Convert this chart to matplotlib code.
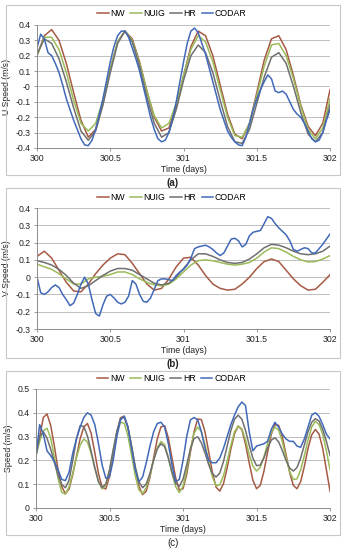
import numpy as np
import matplotlib
matplotlib.use("Agg")
import matplotlib.pyplot as plt
from matplotlib.patches import Rectangle
from matplotlib.ticker import FuncFormatter

plt.rcParams['font.family'] = ['Liberation Sans', 'DejaVu Sans']
plt.rcParams['axes.unicode_minus'] = False

# time grids (days): models every 0.05 d, CODAR / speed every 0.025 d
t_coarse = np.round(300 + 0.05 * np.arange(41), 3)
t_fine = np.round(300 + 0.025 * np.arange(81), 3)

series_names = ["NW", "NUIG", "HR", "CODAR"]
colors = ["#A65A44", "#9BBB59", "#6F6F6F", "#4169B8"]

# ---- (a) U speed ----
u_nw = [0.20, 0.33, 0.37, 0.30, 0.15, -0.04, -0.22, -0.33, -0.28, -0.11,
        0.11, 0.29, 0.36, 0.31, 0.16, -0.03, -0.20, -0.29, -0.27, -0.13,
        0.07, 0.26, 0.36, 0.33, 0.20, 0.01, -0.18, -0.31, -0.34, -0.24,
        -0.04, 0.17, 0.31, 0.33, 0.24, 0.07, -0.12, -0.26, -0.32, -0.24,
        -0.02]
u_nuig = [0.20, 0.32, 0.32, 0.24, 0.09, -0.09, -0.24, -0.29, -0.24, -0.09,
          0.11, 0.29, 0.36, 0.30, 0.15, -0.03, -0.19, -0.27, -0.24, -0.11,
          0.07, 0.24, 0.33, 0.29, 0.16, -0.02, -0.20, -0.32, -0.33, -0.24,
          -0.06, 0.13, 0.27, 0.28, 0.20, 0.05, -0.13, -0.28, -0.34, -0.27,
          -0.08]
u_hr = [0.21, 0.31, 0.28, 0.18, 0.03, -0.14, -0.29, -0.35, -0.29, -0.12,
        0.09, 0.28, 0.36, 0.29, 0.13, -0.07, -0.24, -0.33, -0.30, -0.15,
        0.04, 0.20, 0.27, 0.22, 0.09, -0.09, -0.26, -0.36, -0.37, -0.28,
        -0.11, 0.06, 0.19, 0.22, 0.15, 0.00, -0.17, -0.31, -0.36, -0.30,
        -0.12]
u_codar = [0.25, 0.34, 0.31, 0.22, 0.20, 0.15, 0.09, 0.01, -0.08, -0.15,
           -0.22, -0.28, -0.34, -0.38, -0.385, -0.35, -0.28, -0.18, -0.08, 0.04,
           0.16, 0.26, 0.33, 0.36, 0.36, 0.32, 0.25, 0.18, 0.10, 0.00,
           -0.10, -0.20, -0.28, -0.34, -0.36, -0.35, -0.30, -0.21, -0.10, 0.03,
           0.16, 0.28, 0.36, 0.38, 0.35, 0.28, 0.21, 0.12, 0.03, -0.06,
           -0.15, -0.22, -0.29, -0.33, -0.36, -0.38, -0.385, -0.33, -0.24, -0.15,
           -0.08, -0.02, 0.03, 0.075, 0.05, -0.03, -0.04, -0.03, -0.05, -0.10,
           -0.15, -0.18, -0.20, -0.24, -0.29, -0.34, -0.36, -0.35, -0.30, -0.22,
           -0.15]

# ---- (b) V speed ----
v_nw = [0.12, 0.15, 0.11, 0.04, -0.03, -0.08, -0.085, -0.04, 0.02, 0.07,
        0.11, 0.135, 0.13, 0.08, 0.02, -0.04, -0.075, -0.065, -0.01, 0.06,
        0.11, 0.115, 0.07, 0.01, -0.04, -0.065, -0.075, -0.07, -0.04, 0.00,
        0.05, 0.09, 0.105, 0.09, 0.04, -0.01, -0.05, -0.075, -0.07, -0.03,
        0.015]
v_nuig = [0.075, 0.06, 0.045, 0.02, -0.01, -0.04, -0.04, -0.01, 0.00, 0.005,
          0.015, 0.03, 0.03, 0.015, -0.01, -0.03, -0.045, -0.05, -0.04, -0.01,
          0.03, 0.07, 0.095, 0.10, 0.095, 0.085, 0.075, 0.07, 0.075, 0.085,
          0.11, 0.145, 0.17, 0.165, 0.145, 0.12, 0.10, 0.088, 0.09, 0.105,
          0.125]
v_hr = [0.095, 0.085, 0.07, 0.045, 0.01, -0.035, -0.065, -0.05, -0.02, 0.01,
        0.035, 0.05, 0.05, 0.04, 0.015, -0.01, -0.035, -0.045, -0.035, 0.00,
        0.05, 0.10, 0.135, 0.135, 0.12, 0.10, 0.085, 0.08, 0.085, 0.105,
        0.135, 0.17, 0.19, 0.185, 0.17, 0.15, 0.135, 0.13, 0.135, 0.15,
        0.18]
v_codar = [0.00, -0.09, -0.10, -0.085, -0.06, -0.045, -0.06, -0.10, -0.13, -0.165,
           -0.15, -0.10, -0.04, 0.00, -0.04, -0.13, -0.21, -0.225, -0.16, -0.11,
           -0.10, -0.12, -0.145, -0.155, -0.145, -0.11, -0.02, -0.04, -0.10, -0.14,
           -0.145, -0.12, -0.07, -0.02, -0.01, -0.01, -0.015, -0.02, 0.01, 0.03,
           0.045, 0.07, 0.11, 0.165, 0.175, 0.18, 0.185, 0.175, 0.16, 0.14,
           0.125, 0.14, 0.18, 0.22, 0.225, 0.21, 0.175, 0.19, 0.24, 0.26,
           0.265, 0.27, 0.31, 0.35, 0.34, 0.31, 0.285, 0.265, 0.245, 0.21,
           0.16, 0.15, 0.16, 0.17, 0.165, 0.14, 0.14, 0.165, 0.19, 0.22,
           0.25]

# ---- (c) speed ----
s_nw = [0.22, 0.30, 0.38, 0.395, 0.347, 0.26, 0.16, 0.09, 0.06, 0.08,
        0.14, 0.215, 0.29, 0.34, 0.355, 0.314, 0.233, 0.145, 0.086, 0.08,
        0.133, 0.223, 0.318, 0.379, 0.386, 0.341, 0.259, 0.167, 0.092, 0.056,
        0.071, 0.129, 0.211, 0.29, 0.341, 0.345, 0.295, 0.21, 0.126, 0.075,
        0.081, 0.141, 0.234, 0.321, 0.374, 0.371, 0.318, 0.234, 0.148, 0.087,
        0.071, 0.102, 0.168, 0.247, 0.312, 0.344, 0.329, 0.268, 0.189, 0.117,
        0.081, 0.095, 0.154, 0.234, 0.309, 0.35, 0.347, 0.30, 0.226, 0.149,
        0.095, 0.081, 0.111, 0.175, 0.25, 0.307, 0.33, 0.31, 0.25, 0.16,
        0.07]
s_nuig = [0.22, 0.28, 0.325, 0.335, 0.294, 0.213, 0.125, 0.066, 0.058, 0.089,
          0.147, 0.211, 0.264, 0.29, 0.277, 0.229, 0.166, 0.11, 0.08, 0.096,
          0.157, 0.24, 0.317, 0.36, 0.356, 0.304, 0.222, 0.136, 0.076, 0.06,
          0.086, 0.138, 0.202, 0.254, 0.279, 0.266, 0.213, 0.145, 0.089, 0.065,
          0.091, 0.16, 0.245, 0.314, 0.34, 0.32, 0.265, 0.194, 0.13, 0.093,
          0.097, 0.136, 0.197, 0.263, 0.32, 0.344, 0.332, 0.286, 0.225, 0.176,
          0.155, 0.171, 0.215, 0.27, 0.318, 0.34, 0.327, 0.279, 0.214, 0.153,
          0.12, 0.122, 0.16, 0.22, 0.285, 0.34, 0.364, 0.35, 0.31, 0.24,
          0.16]
s_hr = [0.22, 0.30, 0.32, 0.293, 0.247, 0.191, 0.137, 0.099, 0.085, 0.117,
        0.199, 0.289, 0.345, 0.343, 0.302, 0.239, 0.17, 0.111, 0.086, 0.101,
        0.16, 0.244, 0.322, 0.376, 0.381, 0.338, 0.261, 0.175, 0.11, 0.085,
        0.101, 0.145, 0.20, 0.248, 0.27, 0.257, 0.21, 0.15, 0.103, 0.091,
        0.121, 0.181, 0.248, 0.292, 0.299, 0.273, 0.23, 0.181, 0.144, 0.13,
        0.147, 0.195, 0.26, 0.325, 0.373, 0.39, 0.373, 0.326, 0.264, 0.209,
        0.178, 0.18, 0.21, 0.252, 0.285, 0.295, 0.278, 0.242, 0.20, 0.168,
        0.155, 0.17, 0.21, 0.265, 0.32, 0.36, 0.375, 0.365, 0.33, 0.28,
        0.22]
s_codar = [0.22, 0.35, 0.31, 0.24, 0.22, 0.195, 0.16, 0.12, 0.115, 0.15,
           0.23, 0.29, 0.34, 0.38, 0.40, 0.39, 0.35, 0.27, 0.18, 0.125,
           0.13, 0.20, 0.30, 0.37, 0.385, 0.34, 0.25, 0.16, 0.11, 0.13,
           0.19, 0.26, 0.32, 0.355, 0.36, 0.34, 0.27, 0.18, 0.11, 0.12,
           0.20, 0.30, 0.37, 0.38, 0.37, 0.32, 0.25, 0.20, 0.19, 0.19,
           0.21, 0.25, 0.30, 0.35, 0.39, 0.425, 0.445, 0.43, 0.32, 0.24,
           0.26, 0.265, 0.27, 0.28, 0.33, 0.36, 0.34, 0.31, 0.29, 0.28,
           0.28, 0.26, 0.255, 0.29, 0.34, 0.39, 0.40, 0.385, 0.35, 0.31,
           0.29]

x_ticks = [300, 300.5, 301, 301.5, 302]
x_ticklabels = ["300", "300.5", "301", "301.5", "302"]

fig = plt.figure(figsize=(3.46, 5.5), dpi=100)

panels = [
    # (rect, series, ylim, yticks, ylabel, caption, box top/bottom px, caption y px, bold)
    ([0.107, 0.731, 0.847, 0.2236],
     [(t_coarse, u_nw), (t_coarse, u_nuig), (t_coarse, u_hr), (t_fine, u_codar)],
     (-0.4, 0.4), np.round(np.arange(-0.4, 0.41, 0.1), 1), "U Speed (m/s)",
     "(a)", (5, 175), 183, "bold"),
    ([0.107, 0.4018, 0.847, 0.22],
     [(t_coarse, v_nw), (t_coarse, v_nuig), (t_coarse, v_hr), (t_fine, v_codar)],
     (-0.3, 0.4), np.round(np.arange(-0.3, 0.41, 0.1), 1), "V Speed (m/s)",
     "(b)", (188, 358), 364, "bold"),
    ([0.104, 0.0764, 0.850, 0.2164],
     [(t_fine, s_nw), (t_fine, s_nuig), (t_fine, s_hr), (t_fine, s_codar)],
     (0, 0.5), np.round(np.arange(0, 0.51, 0.1), 1), "Speed (m/s)",
     "(c)", (371, 535), 543, "normal"),
]

W, H = 346.0, 550.0
for rect, data, ylim, yticks, ylabel, cap, box, cap_y, weight in panels:
    # chart area border
    fig.patches.append(Rectangle((6 / W, 1 - box[1] / H), 334 / W, (box[1] - box[0]) / H,
                                 transform=fig.transFigure, fill=False,
                                 edgecolor="#C8C8C8", linewidth=0.8))
    ax = fig.add_axes(rect)
    for (tt, vals), name, c in zip(data, series_names, colors):
        ax.plot(tt, vals, color=c, lw=1.1, label=name)
    ax.set_xlim(300, 302)
    ax.set_ylim(*ylim)
    ax.set_yticks(yticks)
    ax.yaxis.set_major_formatter(FuncFormatter(lambda v, p: "%g" % round(v, 1)))
    ax.set_xticks(x_ticks)
    ax.set_xticklabels(x_ticklabels)
    ax.grid(axis="y", color="#BEBEBE", lw=0.7)
    ax.set_axisbelow(True)
    for s in ["top", "right"]:
        ax.spines[s].set_visible(False)
    for s in ["left", "bottom"]:
        ax.spines[s].set_color("#8C8C8C")
        ax.spines[s].set_linewidth(0.7)
    ax.tick_params(labelsize=6.3, colors="#8C8C8C", labelcolor="#222222",
                   length=2.5, width=0.6, pad=2)
    ax.set_ylabel(ylabel, fontsize=6.3, color="#222222", labelpad=3)
    ax.set_xlabel("Time (days)", fontsize=6.3, color="#222222", labelpad=1.5)
    ax.legend(loc="center", bbox_to_anchor=(0.46, 1.09), ncol=4, frameon=False,
              fontsize=6.3, handlelength=1.3, handletextpad=0.2, columnspacing=0.6,
              borderaxespad=0)
    fig.text(0.5, 1 - cap_y / H, cap, ha="center", va="center", fontsize=7,
             color="#222222", fontweight=weight)

fig.savefig("out.png", dpi=100)
